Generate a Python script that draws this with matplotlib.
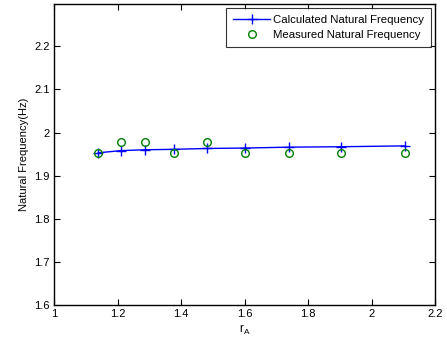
import matplotlib
matplotlib.use("Agg")
import matplotlib.pyplot as plt

plt.rcParams['font.family'] = ['Liberation Sans', 'DejaVu Sans']
plt.rcParams['mathtext.fontset'] = 'custom'
plt.rcParams['mathtext.rm'] = 'Liberation Sans'
plt.rcParams['mathtext.it'] = 'Liberation Sans'

r_a = [1.14, 1.211, 1.288, 1.378, 1.482, 1.602, 1.740, 1.903, 2.106]
calc_freq = [1.953, 1.958, 1.960, 1.961, 1.963, 1.964, 1.966, 1.967, 1.969]
meas_freq = [1.953, 1.977, 1.977, 1.953, 1.977, 1.953, 1.953, 1.953, 1.953]
xticks = [1, 1.2, 1.4, 1.6, 1.8, 2, 2.2]
xticklabels = ['1', '1.2', '1.4', '1.6', '1.8', '2', '2.2']
yticks = [1.6, 1.7, 1.8, 1.9, 2.0, 2.1, 2.2]
yticklabels = ['1.6', '1.7', '1.8', '1.9', '2', '2.1', '2.2']

fig = plt.figure(figsize=(4.47, 3.43), dpi=100)
ax = fig.add_axes([54/447, 38/343, 381/447, 301/343])

ax.plot(r_a, calc_freq, color='#0000ff', marker='+', markersize=6.5, linewidth=1,
        markeredgewidth=1, label='Calculated Natural Frequency')
ax.plot(r_a, meas_freq, linestyle='none', marker='o', markersize=5.5,
        markerfacecolor='none', markeredgecolor='#008000', markeredgewidth=1,
        label='Measured Natural Frequency')

ax.set_xlim(1, 2.2)
ax.set_ylim(1.6, 2.298)
ax.set_xticks(xticks)
ax.set_xticklabels(xticklabels)
ax.set_yticks(yticks)
ax.set_yticklabels(yticklabels)
ax.tick_params(direction='in', top=True, right=True, labelsize=8, length=4, width=0.8, pad=3)
for s in ax.spines.values():
    s.set_linewidth(1.0)

ax.set_xlabel(r'r$_{\mathrm{A}}$', fontsize=8.5, labelpad=3)
ax.set_ylabel('Natural Frequency(Hz)', fontsize=8, labelpad=4)

leg = ax.legend(loc='upper right', fontsize=8.2, frameon=True, fancybox=False,
                edgecolor='black', borderaxespad=0.35, handlelength=3.2,
                borderpad=0.6, labelspacing=0.45, handletextpad=0.3)
leg.get_frame().set_linewidth(0.8)

fig.savefig('out.png', dpi=100)
